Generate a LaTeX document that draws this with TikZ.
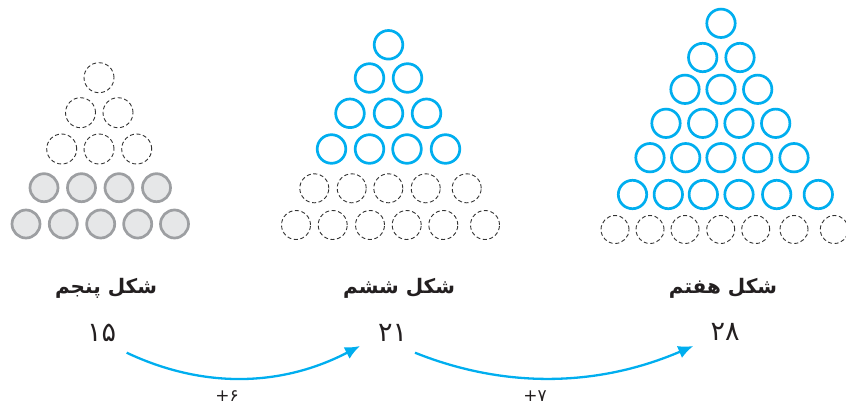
\documentclass[tikz,border=0pt]{standalone}
\usepackage{fontspec}
\usetikzlibrary{arrows.meta}
\TeXXeTstate=1
\newfontfamily\fa[Script=Arabic]{DejaVu Sans}
\definecolor{cy}{HTML}{00AEEF}
\definecolor{grc}{HTML}{9D9FA2}
\definecolor{grf}{HTML}{E6E7E8}
\definecolor{dk}{HTML}{333333}
\definecolor{txt}{HTML}{231F20}
\begin{document}
\begin{tikzpicture}[x=1pt,y=-1pt,
  bluec/.style={draw=cy,line width=2.7pt},
  grayc/.style={draw=grc,fill=grf,line width=2.7pt},
  dashc/.style={draw=dk,line width=0.9pt,dash pattern=on 4pt off 2.6pt},
  arr/.style={draw=cy,line width=2.3pt,-{Latex[length=15pt,width=13pt]}},
  lbl/.style={font=\fa\bfseries\fontsize{20}{22}\selectfont,text=txt,inner sep=0pt},
  num/.style={font=\fa\fontsize{27}{30}\selectfont,text=txt,inner sep=0pt},
  pl/.style={font=\fa\fontsize{17}{19}\selectfont,text=txt,inner sep=0pt}]
\useasboundingbox (0,0) rectangle (846,405);
% ---- left triangle (figure 5)
\draw[dashc] (99,77.7) circle[radius=15pt];
\foreach \x in {80.5,118} \draw[dashc] (\x,112.7) circle[radius=15pt];
\foreach \x in {61.7,99,136.7} \draw[dashc] (\x,149) circle[radius=15pt];
\foreach \x in {44,81.5,119,156.5} \draw[grayc] (\x,187.7) circle[radius=14pt];
\foreach \x in {26,63.3,100.7,137.7,174.5} \draw[grayc] (\x,224) circle[radius=14pt];
% ---- middle triangle (figure 6)
\draw[bluec] (388.5,44.8) circle[radius=14.3pt];
\foreach \x in {369.5,407.5} \draw[bluec] (\x,78) circle[radius=14.3pt];
\foreach \x in {350,388.5,426.5} \draw[bluec] (\x,113.3) circle[radius=14.3pt];
\foreach \x in {331.5,369.5,407,445.5} \draw[bluec] (\x,149) circle[radius=14.3pt];
\foreach \x in {314.3,351.7,388.3,425.7,466.7} \draw[dashc] (\x,188.3) circle[radius=14.5pt];
\foreach \x in {296,332.7,370,406.7,443.3,485} \draw[dashc] (\x,225) circle[radius=14.5pt];
% ---- right triangle (figure 7)
\draw[bluec] (721,23.3) circle[radius=14.2pt];
\foreach \x in {702.7,740} \draw[bluec] (\x,57.5) circle[radius=14.2pt];
\foreach \x in {685,721,757.7} \draw[bluec] (\x,89.3) circle[radius=14.2pt];
\foreach \x in {666,702.7,739,775.7} \draw[bluec] (\x,123.3) circle[radius=14.2pt];
\foreach \x in {650,685.7,721,757.7,794} \draw[bluec] (\x,157.7) circle[radius=14.2pt];
\foreach \x in {632.5,668.3,703.3,739,776.7,818.3} \draw[bluec] (\x,194.5) circle[radius=14.2pt];
\foreach \x in {615,650,685,720.7,755.7,794,834.3} \draw[dashc] (\x,229.5) circle[radius=14pt];
% ---- labels
\node[lbl] (l5) at (106,288) {\beginR شکل پنجم\endR};
\node[lbl] (l6) at (399,288) {\beginR شکل ششم\endR};
\node[lbl] (l7) at (723,288) {\beginR شکل هفتم\endR};
\node[num] (n15) at (101.7,333) {۱۵};
\node[num] (n21) at (392.5,333) {۲۱};
\node[num] (n28) at (725,332) {۲۸};
% ---- arrows
\coordinate (s1) at (126.7,352.7);
\coordinate (e1) at (360,346);
\coordinate (s2) at (415,352.7);
\coordinate (e2) at (693.3,346);
\draw[arr] (s1) .. controls +(77,36.3) and +(-78.4,40.7) .. (e1);
\draw[arr] (s2) .. controls +(90.7,36.3) and +(-94.9,40.7) .. (e2);
\node[pl] (p6) at (227,396) {\mbox{+}\mbox{۶}};
\node[pl] (p7) at (535,396) {\mbox{+}\mbox{۷}};
\end{tikzpicture}
\end{document}
